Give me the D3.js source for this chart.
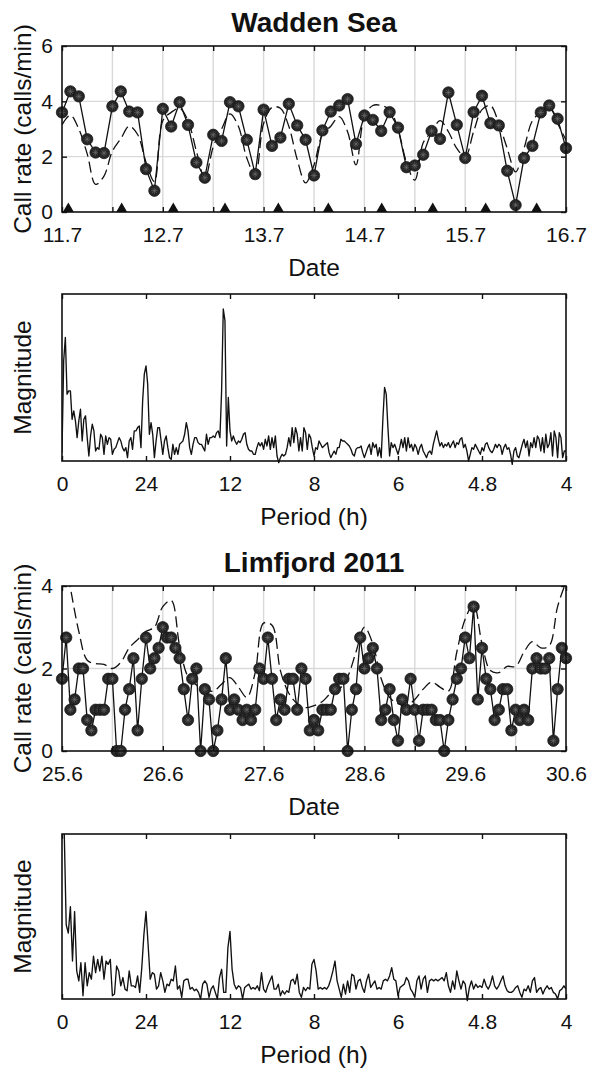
<!DOCTYPE html>
<html>
<head>
<meta charset="utf-8">
<script src="https://cdn.jsdelivr.net/npm/d3@7"></script>
<style>
  body { margin: 0; background: #fff; }
  text { font-family: "Liberation Sans", Arial, Helvetica, sans-serif; fill: #111; }
</style>
</head>
<body>
<script>
// --- data ---
// Wadden Sea: call rate every 2 h, 11.7 -> 16.7
const waddenRate = [3.60, 4.36, 4.18, 2.63, 2.15, 2.13, 3.82, 4.36, 3.63, 3.60,
  1.55, 0.77, 3.73, 3.09, 3.97, 3.15, 1.79, 1.24, 2.79, 2.57,
  3.97, 3.82, 2.61, 1.37, 3.70, 2.39, 2.69, 3.91, 3.13, 2.61,
  1.32, 2.95, 3.63, 3.85, 4.08, 2.46, 3.49, 3.33, 2.93, 3.61,
  3.05, 1.62, 1.68, 2.07, 2.93, 2.64, 4.32, 3.15, 1.95, 3.61,
  4.20, 3.21, 3.13, 1.49, 0.25, 1.95, 2.39, 3.60, 3.85, 3.37, 2.31];
// model curve (dashed), every 2 h
const waddenModel = [3.15, 3.5, 3.0, 2.1, 1.0, 1.3, 2.2, 2.65, 3.1, 2.8,
  1.8, 1.1, 3.3, 3.6, 3.75, 3.3, 2.2, 1.2, 2.35, 3.0,
  3.55, 3.1, 1.95, 1.35, 3.2, 3.78, 3.75, 3.1, 1.9, 1.05,
  1.7, 2.8, 3.1, 3.45, 2.9, 1.7, 3.45, 3.85, 3.85, 3.7,
  3.0, 1.8, 1.15, 2.5, 2.9, 3.3, 2.9, 2.3, 2.0, 2.9,
  3.7, 3.85, 3.2, 2.3, 1.45, 2.3, 3.3, 3.6, 3.8, 3.2, 2.6];
// tide markers (days after 11.7)
const waddenTides = [0.063, 0.592, 1.104, 1.617, 2.146, 2.642, 3.172, 3.678, 4.203, 4.709];
const waddenDates = ["11.7", "12.7", "13.7", "14.7", "15.7", "16.7"];

// Wadden Sea spectrum, 0.02 cycles/day steps (relative magnitude)
const waddenSpec = [0.05, 0.60, 0.74, 0.40, 0.42, 0.42, 0.25, 0.30, 0.24, 0.14,
  0.24, 0.31, 0.12, 0.25, 0.27, 0.14, 0.03, 0.15, 0.22, 0.18,
  0.06, 0.08, 0.07, 0.16, 0.14, 0.04, 0.15, 0.10, 0.14, 0.13,
  0.04, 0.07, 0.08, 0.11, 0.14, 0.12, 0.08, 0.06, 0.08, 0.02,
  0.12, 0.14, 0.07, 0.18, 0.18, 0.20, 0.21, 0.08, 0.36, 0.52,
  0.57, 0.46, 0.16, 0.23, 0.16, 0.02, 0.12, 0.20, 0.20, 0.12,
  0.04, 0.12, 0.15, 0.08, 0.02, 0.01, 0.10, 0.04, 0.08, 0.04,
  0.10, 0.11, 0.12, 0.16, 0.23, 0.18, 0.08, 0.04, 0.10, 0.14,
  0.14, 0.11, 0.10, 0.10, 0.08, 0.06, 0.16, 0.10, 0.14, 0.14,
  0.15, 0.14, 0.17, 0.18, 0.14, 0.42, 0.91, 0.84, 0.09, 0.38,
  0.18, 0.12, 0.15, 0.12, 0.10, 0.12, 0.11, 0.13, 0.16, 0.17,
  0.10, 0.07, 0.06, 0.06, 0.04, 0.04, 0.08, 0.11, 0.09, 0.11,
  0.07, 0.13, 0.09, 0.15, 0.07, 0.14, 0.08, 0.15, 0.03, -0.01,
  0.02, 0.04, 0.03, 0.04, 0.08, 0.14, 0.09, 0.20, 0.11, 0.20,
  0.16, 0.06, 0.14, 0.06, 0.20, 0.17, 0.07, 0.16, 0.14, 0.08,
  0.03, 0.08, 0.07, 0.12, 0.10, 0.08, 0.09, 0.10, 0.11, 0.05,
  0.02, 0.04, 0.06, 0.04, 0.08, 0.08, 0.13, 0.12, 0.12, 0.11,
  0.10, 0.09, 0.07, 0.04, 0.03, 0.07, 0.08, 0.08, 0.09, 0.05,
  0.02, 0.05, 0.08, 0.10, 0.04, 0.11, 0.08, 0.10, 0.03, 0.08,
  0.02, 0.25, 0.44, 0.40, 0.20, 0.03, 0.11, 0.08, 0.10, 0.07,
  0.04, 0.08, 0.13, 0.08, 0.14, 0.06, 0.14, 0.08, 0.10, 0.06,
  0.10, 0.08, 0.04, 0.08, 0.10, 0.06, 0.04, 0.02, 0.05, 0.06,
  0.04, 0.10, 0.14, 0.18, 0.13, 0.09, 0.11, 0.08, 0.10, 0.09,
  0.11, 0.08, 0.10, 0.12, 0.08, 0.11, 0.10, 0.13, 0.14, 0.08,
  0.10, 0.06, 0.00, 0.04, 0.08, 0.07, 0.10, 0.08, 0.06, 0.04,
  0.08, 0.06, 0.10, 0.11, 0.08, 0.06, 0.05, 0.07, 0.10, 0.08,
  0.10, 0.09, 0.04, 0.08, 0.10, 0.07, 0.08, 0.04, -0.02, 0.06,
  0.08, 0.03, 0.02, 0.06, 0.10, 0.13, 0.08, 0.12, 0.03, 0.11,
  0.08, 0.14, 0.08, 0.15, 0.13, 0.06, 0.14, 0.05, 0.16, 0.08,
  0.10, 0.17, 0.03, 0.18, 0.14, 0.02, 0.17, 0.14, 0.02, 0.06, 0.06];

// Limfjord 2011: hourly call rate, 25.6 -> 30.6
const limRate = [1.75, 2.75, 1.0, 1.25, 2.0, 2.0, 0.75, 0.5, 1.0, 1.0,
  1.0, 1.75, 1.75, 0, 0, 1.0, 1.5, 2.25, 0.5, 1.75,
  2.75, 2.0, 2.25, 2.5, 3.0, 2.75, 2.75, 2.5, 2.25, 1.5,
  0.75, 1.75, 2.0, 0, 1.5, 1.25, 0, 0.5, 1.25, 2.25,
  1.0, 1.25, 1.0, 0.75, 1.0, 0.75, 1.0, 2.0, 1.75, 2.75,
  1.75, 0.75, 1.25, 1.0, 1.75, 1.75, 1.0, 2.0, 1.75, 0.5,
  0.75, 0.5, 1.0, 1.0, 1.0, 1.5, 1.75, 1.75, 0, 1.0,
  1.5, 2.75, 2.0, 2.25, 2.5, 2.0, 0.75, 1.0, 1.5, 0.75,
  0.25, 1.25, 1.0, 1.75, 1.0, 0.25, 1.0, 1.0, 1.0, 0.75,
  0.75, 0, 0.75, 1.25, 1.75, 2.0, 2.75, 2.25, 3.5, 1.25,
  2.5, 1.75, 1.5, 0.75, 1.0, 1.5, 1.5, 0.5, 1.0, 0.75,
  1.0, 0.75, 2.0, 2.25, 2.0, 2.0, 2.25, 0.25, 1.5, 2.5, 2.25];
// model curve (dashed), every 2 h
const limModel = [5.0, 3.95, 2.9, 2.2, 2.12, 2.1, 2.0, 2.15, 2.5, 2.7,
  2.9, 3.0, 3.5, 3.65, 2.55, 1.8, 1.6, 1.5, 1.45, 1.62,
  1.78, 1.55, 1.3, 1.9, 3.1, 3.05, 1.95, 1.4, 1.15, 1.05,
  1.1, 1.2, 1.4, 1.5, 1.8, 2.4, 3.0, 2.6, 1.75, 1.3,
  1.15, 1.1, 1.25, 1.5, 1.67, 1.55, 1.45, 2.4, 3.2, 3.55,
  2.6, 1.95, 1.9, 2.05, 2.05, 2.4, 2.65, 2.5, 2.55, 3.5, 4.1];
const limDates = ["25.6", "26.6", "27.6", "28.6", "29.6", "30.6"];

// Limfjord spectrum, 0.025 cycles/day steps
const limSpec = [1.2, 1.05, 0.45, 0.40, 0.56, 0.23, 0.53, 0.17, 0.11, 0.22,
  0.02, 0.22, 0.08, 0.16, 0.12, 0.26, 0.16, 0.24, 0.17, 0.26,
  0.12, 0.23, 0.21, 0.24, 0.02, 0.03, 0.20, 0.17, 0.08, 0.13,
  0.06, 0.05, 0.17, 0.08, 0.08, 0.07, 0.14, 0.04, 0.19, 0.39,
  0.53, 0.33, 0.12, 0.16, 0.15, 0.06, 0.08, 0.16, 0.11, 0.04,
  0.09, 0.08, 0.12, 0.11, 0.20, 0.06, 0.08, 0.01, 0.11, 0.12,
  0.12, 0.06, 0.07, 0.05, 0.06, 0.04, 0.00, 0.09, 0.11, 0.09,
  0.01, 0.06, 0.08, 0.04, 0.00, 0.13, 0.18, 0.04, 0.04, 0.31,
  0.41, 0.18, 0.09, 0.06, 0.08, 0.07, 0.00, 0.07, 0.08, 0.09,
  0.06, 0.07, 0.06, 0.08, 0.05, 0.16, 0.06, 0.04, 0.08, 0.11,
  0.14, 0.06, 0.06, 0.09, 0.02, 0.05, 0.03, 0.05, 0.04, 0.11,
  0.12, 0.09, 0.15, 0.04, 0.01, 0.07, 0.05, 0.07, 0.06, 0.21,
  0.24, 0.17, 0.06, 0.07, 0.06, 0.07, 0.06, 0.08, 0.12, 0.17,
  0.23, 0.11, 0.06, 0.01, 0.09, 0.03, 0.11, 0.04, 0.15, 0.14,
  0.06, 0.11, 0.12, 0.07, 0.04, 0.11, 0.15, 0.07, 0.09, 0.11,
  0.06, 0.07, 0.06, 0.11, 0.12, 0.11, 0.14, 0.19, 0.12, 0.11,
  0.02, 0.07, 0.08, 0.09, 0.13, 0.11, 0.06, 0.04, 0.01, 0.11,
  0.14, 0.06, 0.12, 0.14, 0.04, 0.11, 0.12, 0.11, 0.12, 0.11,
  0.12, 0.13, 0.11, 0.16, 0.08, 0.04, 0.11, 0.06, 0.17, 0.11,
  0.06, 0.11, 0.09, -0.01, 0.07, 0.11, 0.06, 0.09, 0.07, 0.08,
  0.07, 0.12, 0.08, 0.06, 0.09, 0.14, 0.08, 0.06, 0.08, 0.11,
  0.14, 0.08, 0.05, 0.04, 0.04, 0.05, 0.07, 0.08, 0.04, 0.01,
  0.06, 0.05, 0.08, 0.04, 0.11, 0.13, 0.04, 0.06, 0.07, 0.03,
  0.06, 0.08, 0.06, 0.07, 0.04, 0.03, 0.00, 0.05, 0.06, 0.08, 0.06];

// period axis: ticks at 0..6 cycles/day, labelled as period in hours
const periodLabels = ["0", "24", "12", "8", "6", "4.8", "4"];

// --- layout ---
const X0 = 62, X1 = 566;
const svg = d3.select("body").append("svg").attr("width", 590).attr("height", 1071);
const defs = svg.append("defs");

function styleAxis(a) {
    a.attr("font-size", null).attr("font-family", null);
    a.select(".domain").remove();
    a.selectAll(".tick line").attr("stroke", "#111").attr("stroke-width", 1.4);
    a.selectAll("text").style("font-size", "21px");
}

function frame(g, top, bottom) {
    g.append("rect").attr("x", X0).attr("y", top).attr("width", X1 - X0).attr("height", bottom - top)
        .attr("fill", "none").attr("stroke", "#111").attr("stroke-width", 1.6);
}

function label(txt, x, y, size, bold, rot) {
    svg.append("text").attr("transform", `translate(${x},${y})` + (rot ? " rotate(-90)" : ""))
        .attr("text-anchor", "middle").style("font-size", size + "px")
        .style("font-weight", bold ? "bold" : "normal").text(txt);
}

function timePanel(o) {
    const x = d3.scaleLinear().domain([0, 5]).range([X0, X1]);
    const y = d3.scaleLinear().domain([0, o.yMax]).range([o.bottom, o.top]);
    const g = svg.append("g");
    const halfDays = d3.range(0, 5.01, 0.5);

    // grid
    g.append("g").selectAll("line").data(halfDays.slice(1, -1)).join("line")
        .attr("x1", d => x(d)).attr("x2", d => x(d)).attr("y1", o.top).attr("y2", o.bottom)
        .attr("stroke", "#d9d9d9").attr("stroke-width", 1.4);
    g.append("g").selectAll("line").data(o.yTicks.slice(1, -1)).join("line")
        .attr("x1", X0).attr("x2", X1).attr("y1", d => y(d)).attr("y2", d => y(d))
        .attr("stroke", "#d9d9d9").attr("stroke-width", 1.4);

    defs.append("clipPath").attr("id", o.clip).append("rect")
        .attr("x", X0).attr("y", o.top).attr("width", X1 - X0).attr("height", o.bottom - o.top);

    // model (dashed)
    g.append("path").datum(o.model).attr("clip-path", `url(#${o.clip})`)
        .attr("d", d3.line().x((d, i) => x(i * 2 / 24)).y(d => y(d)).curve(d3.curveCatmullRom))
        .attr("fill", "none").attr("stroke", "#111").attr("stroke-width", 1.3)
        .attr("stroke-dasharray", "11,5");

    // observed
    g.append("path").datum(o.rate)
        .attr("d", d3.line().x((d, i) => x(i * o.stepH / 24)).y(d => y(d)))
        .attr("fill", "none").attr("stroke", "#111").attr("stroke-width", 1.3);

    const m = g.append("g").selectAll("g").data(o.rate).join("g")
        .attr("transform", (d, i) => `translate(${x(i * o.stepH / 24)},${y(d)})`);
    m.append("circle").attr("r", 5.7).attr("fill", "#262626").attr("stroke", "#111").attr("stroke-width", 0.7);
    m.append("path").attr("d", "M-3.2,0H3.2M0,-3.2V3.2M-2.3,-2.3L2.3,2.3M-2.3,2.3L2.3,-2.3")
        .attr("stroke", "#707070").attr("stroke-width", 0.6);

    if (o.tides) {
        g.append("g").selectAll("path").data(o.tides).join("path")
            .attr("d", d => `M${x(d) - 5.5},${o.bottom}L${x(d) + 5.5},${o.bottom}L${x(d)},${o.bottom - 9.5}Z`)
            .attr("fill", "#111");
    }

    // axes
    g.append("g").attr("transform", `translate(0,${o.bottom})`)
        .call(d3.axisBottom(x).tickValues(halfDays).tickSize(-5).tickPadding(15)
            .tickFormat(d => d % 1 === 0 ? o.labels[d] : ""))
        .call(styleAxis);
    g.append("g").attr("transform", `translate(0,${o.top})`)
        .call(d3.axisTop(x).tickValues(halfDays).tickSize(-5).tickFormat(""))
        .call(styleAxis);
    g.append("g").attr("transform", `translate(${X0},0)`)
        .call(d3.axisLeft(y).tickValues(o.yTicks).tickSize(-5).tickPadding(9).tickFormat(d3.format("d")))
        .call(styleAxis);
    g.append("g").attr("transform", `translate(${X1},0)`)
        .call(d3.axisRight(y).tickValues(o.yTicks).tickSize(-5).tickFormat(""))
        .call(styleAxis);
    frame(g, o.top, o.bottom);

    label(o.title, (X0 + X1) / 2, o.top - 14, 28, true);
    label("Call rate (calls/min)", 31, (o.top + o.bottom) / 2, 24.5, false, true);
    label("Date", (X0 + X1) / 2, o.bottom + 64, 24.5, false);
}

function specPanel(o) {
    const x = d3.scaleLinear().domain([0, 6]).range([X0, X1]);
    const y = d3.scaleLinear().domain([0, 1]).range([o.bottom, o.top]);
    const g = svg.append("g");

    defs.append("clipPath").attr("id", o.clip).append("rect")
        .attr("x", X0).attr("y", o.top).attr("width", X1 - X0).attr("height", o.bottom - o.top + 8);

    g.append("path").datum(o.spec).attr("clip-path", `url(#${o.clip})`)
        .attr("d", d3.line().x((d, i) => x(i * o.step)).y(d => y(d)))
        .attr("fill", "none").attr("stroke", "#111").attr("stroke-width", 1.35)
        .attr("stroke-linejoin", "round");

    const ticks = d3.range(0, 7);
    g.append("g").attr("transform", `translate(0,${o.bottom})`)
        .call(d3.axisBottom(x).tickValues(ticks).tickSize(-5).tickPadding(15).tickFormat(d => periodLabels[d]))
        .call(styleAxis);
    g.append("g").attr("transform", `translate(0,${o.top})`)
        .call(d3.axisTop(x).tickValues(ticks).tickSize(-5).tickFormat(""))
        .call(styleAxis);
    frame(g, o.top, o.bottom);

    label("Magnitude", 31, (o.top + o.bottom) / 2, 24.5, false, true);
    label("Period (h)", (X0 + X1) / 2, o.bottom + 64, 24.5, false);
}

timePanel({ top: 46, bottom: 212, yMax: 6, yTicks: [0, 2, 4, 6], rate: waddenRate, stepH: 2,
    model: waddenModel, tides: waddenTides, labels: waddenDates, title: "Wadden Sea", clip: "clip-w" });
specPanel({ top: 294, bottom: 461, spec: waddenSpec, step: 0.02, clip: "clip-ws" });
timePanel({ top: 586, bottom: 751, yMax: 4, yTicks: [0, 2, 4], rate: limRate, stepH: 1,
    model: limModel, tides: null, labels: limDates, title: "Limfjord 2011", clip: "clip-l" });
specPanel({ top: 834, bottom: 999, spec: limSpec, step: 0.025, clip: "clip-ls" });
</script>
</body>
</html>
